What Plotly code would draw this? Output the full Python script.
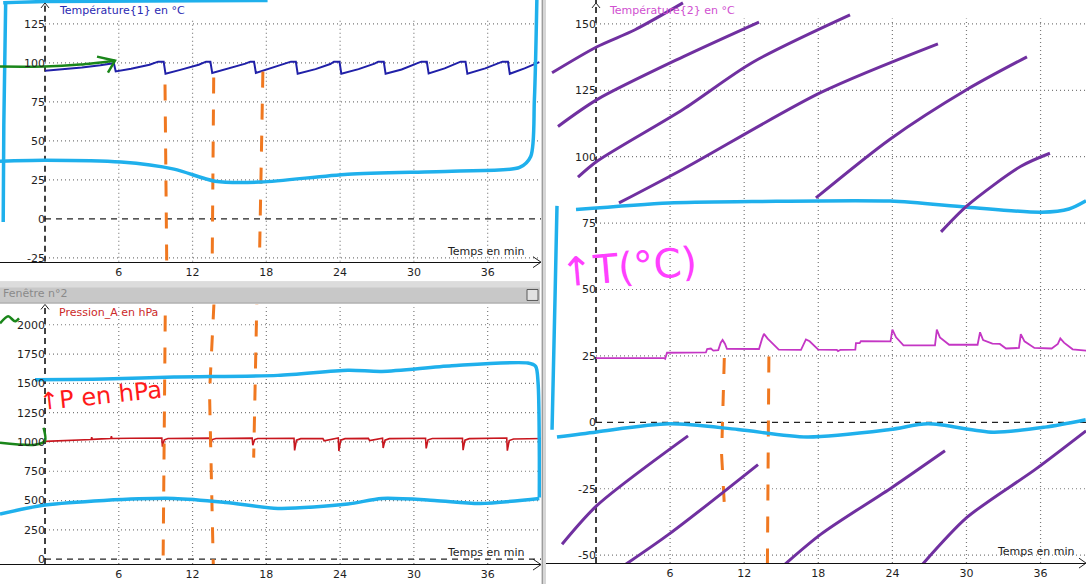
import plotly.graph_objects as go

W, H = 1086, 587

# ---------------- data ----------------
x_ticks = [6, 12, 18, 24, 30, 36]
temp1_ticks = [-25, 0, 25, 50, 75, 100, 125]
pres_ticks = [0, 250, 500, 750, 1000, 1250, 1500, 1750, 2000]
temp2_ticks = [-50, -25, 0, 25, 50, 75, 100, 125, 150]

# Température{1} en °C
temp1_time = [0, 1.5, 3.0, 4.5, 5.6,
              5.75, 7.0, 8.5, 9.2, 9.65,
              9.8, 11.0, 12.5, 13.1, 13.45,
              13.6, 15.0, 16.3, 16.7, 17.0,
              17.15, 18.5, 19.7, 20.0, 20.4,
              20.55, 22.0, 23.2, 23.5, 23.95,
              24.1, 25.5, 26.8, 27.1, 27.55,
              27.7, 29.0, 30.3, 30.6, 31.05,
              31.2, 32.5, 33.5, 33.8, 34.2,
              34.35, 35.8, 36.9, 37.2, 37.65,
              37.8, 39.0, 40.2]
temp1_vals = [95.0, 95.8, 97.0, 98.5, 99.8,
              94.5, 96.2, 98.8, 100.8, 100.8,
              93.0, 95.5, 98.8, 100.8, 100.8,
              93.5, 96.5, 99.5, 100.8, 100.8,
              93.5, 96.8, 99.6, 100.8, 100.8,
              93.0, 96.0, 99.3, 100.8, 100.8,
              93.0, 96.0, 99.5, 100.8, 100.8,
              93.0, 95.8, 99.5, 100.8, 100.8,
              93.2, 96.5, 99.5, 100.8, 100.8,
              93.0, 96.5, 99.5, 100.8, 100.8,
              93.0, 96.5, 100.5]

# Pression_A en hPa
pres_time = [0, 1.5, 3.0, 3.75, 3.8, 3.85, 4.6, 5.35, 5.4, 5.45, 7.0, 8.5, 9.5,
             9.55, 9.7, 10.0,
             11.8, 13.4,
             13.45, 13.6, 13.9,
             15.5, 16.85,
             16.9, 17.05, 17.3,
             18.8, 20.25,
             20.3, 20.45, 20.8,
             22.0, 22.6, 22.7, 23.85,
             23.9, 24.05, 24.4,
             25.5, 26.3, 26.4, 27.45,
             27.5, 27.65, 28.0,
             29.5, 30.95,
             31.0, 31.15, 31.5,
             33.0, 33.95,
             34.0, 34.15, 34.5,
             36.0, 37.55,
             37.6, 37.75, 38.1,
             39.5, 40.5]
pres_vals = [1005, 1010, 1016, 1020, 1040, 1022, 1026, 1030, 1048, 1030, 1032, 1030, 1033,
             960, 1018, 1030,
             1032, 1033,
             972, 1020, 1030,
             1032, 1033,
             972, 1020, 1030,
             1030, 1032,
             928, 1015, 1028,
             1030, 1028, 1010, 1033,
             922, 1015, 1028,
             1030, 1030, 1012, 1032,
             948, 1015, 1028,
             1030, 1032,
             945, 1018, 1030,
             1028, 1032,
             930, 1015, 1028,
             1032, 1034,
             925, 1012, 1025,
             1028, 1030]

# Température{2} en °C
temp2_time = [0, 5.5, 5.6, 5.75, 8.9, 9.0, 9.3, 9.5, 9.9, 10.1,
              10.25, 10.45, 10.6, 13.2, 13.45, 13.6, 13.9, 14.3, 14.8, 16.6,
              16.85, 17.0, 17.3, 17.7, 18.0, 19.5, 19.6, 19.8, 21.0, 21.05,
              21.35, 21.45, 23.85, 24.0, 24.3, 24.9, 27.45, 27.6, 27.85, 28.6,
              30.9, 31.1, 31.35, 32.1, 32.7, 33.2, 34.25, 34.4, 34.7, 35.5,
              36.9, 37.4, 37.6, 37.9, 38.6, 39.7]
temp2_vals = [24.2, 24.2, 23.9, 26.2, 26.3, 27.6, 27.8, 27.0, 27.2, 30.0,
              31.0, 29.5, 27.7, 27.6, 31.5, 33.3, 31.5, 29.5, 27.4, 27.3,
              30.0, 31.2, 30.5, 28.5, 27.4, 27.3, 26.8, 27.3, 27.4, 29.8,
              29.8, 30.6, 30.5, 34.9, 32.0, 29.0, 29.0, 34.9, 32.0, 29.2,
              29.2, 33.9, 31.0, 29.6, 29.5, 27.8, 28.0, 33.2, 30.5, 28.0,
              27.8, 29.5, 31.6, 30.0, 27.5, 27.0]

# ---------------- hand-drawn marks (in each panel's data units) ----------------
# top-left panel (Température{1})
blue_tl_top_x = [-3.4, 0.0, 8.0, 18.1]
blue_tl_top_y = [138.5, 139.3, 139.6, 140.0]
blue_tl_left_x = [-3.2, -3.35, -3.4]
blue_tl_left_y = [138.0, 60.0, -2.0]
blue_tl_loop_x = [-3.66, 0.0, 6.18, 10.49, 13.82, 17.56, 24.63, 33.09, 38.6, 39.5, 39.8, 40.0]
blue_tl_loop_y = [37.0, 37.6, 36.4, 31.9, 24.2, 23.6, 28.7, 30.6, 33.0, 40.0, 76.5, 140.3]
green_tl_x = [-3.66, 0.0, 2.85, 5.69]
green_tl_y = [97.6, 97.6, 98.9, 101.4]
green_tl_head_x = [4.23, 5.69, 5.12]
green_tl_head_y = [104.0, 101.4, 93.75]
orange_tl_1_x = [9.76, 9.92]
orange_tl_1_y = [86.1, -44.6]
orange_tl_2_x = [13.72, 13.58]
orange_tl_2_y = [90.6, -44.6]
orange_tl_3_x = [17.72, 17.4]
orange_tl_3_y = [94.4, -44.6]

# bottom-left panel (Pression_A)
blue_bl_top_x = [-0.81, 4.8, 10.49, 18.94, 24.63, 27.4, 33.09, 39.27, 39.9, 40.1, 40.2, 40.2]
blue_bl_top_y = [1531, 1537, 1554, 1568, 1611, 1602, 1650, 1673, 1645, 1503, 936, 526]
blue_bl_bot_x = [-3.66, 0.0, 4.8, 10.49, 14.72, 18.94, 24.63, 27.4, 31.67, 35.37, 40.2]
blue_bl_bot_y = [385, 461, 501, 518, 484, 433, 470, 518, 501, 475, 518]
green_bl_hook_x = [-3.66, -0.81, 0.0, -0.12]
green_bl_hook_y = [993, 976, 1010, 1121]
green_bl_sq_x = [-3.66, -3.0, -2.44, -2.11]
green_bl_sq_y = [2012, 2072, 2029, 2055]
orange_bl_1_x = [9.8, 9.59]
orange_bl_1_y = [2352, -212]
orange_bl_2_x = [13.74, 13.38, 13.72]
orange_bl_2_y = [2182, 1418, -212]
orange_bl_3_x = [17.25, 16.97]
orange_bl_3_y = [2309, 866]

# right panel (Température{2})
purple_lines = [
    ([-3.56, 0.08, 3.16, 7.04], [131.6, 141.4, 147.8, 157.9]),
    ([-3.08, 0.08, 7.04, 13.2], [111.4, 121.5, 137.6, 150.7]),
    ([-1.46, 0.08, 7.04, 12.63, 20.57], [92.3, 98.3, 117.8, 135.4, 153.4]),
    ([1.86, 7.04, 18.22, 27.69], [82.6, 95.3, 124.2, 142.5]),
    ([17.81, 23.81, 30.04, 34.9], [84.5, 106.6, 125.3, 137.6]),
    ([27.94, 30.04, 34.41, 36.76], [71.7, 81.5, 96.4, 101.3]),
    ([-2.75, 0.08, 7.45], [-45.9, -31.3, -5.1]),
    ([0.89, 5.91, 13.12], [-58.2, -42.1, -15.9]),
    ([14.41, 18.22, 23.97, 28.26], [-57.1, -42.1, -24.5, -10.7]),
    ([26.32, 30.04, 35.55, 39.68], [-54.1, -35.8, -17.8, -3.2]),
]
blue_r_top_x = [-1.62, 5.91, 12.63, 23.81, 30.04, 36.08, 38.3, 39.68]
blue_r_top_y = [80.1, 82.6, 83.1, 83.3, 81.0, 79.1, 80.3, 83.4]
blue_r_left_x = [-3.16, -3.32, -3.56]
blue_r_left_y = [81.5, 46.6, -2.8]
blue_r_bot_x = [-3.16, 0.06, 5.91, 11.5, 17.09, 23.81, 26.87, 32.17, 36.36, 39.65]
blue_r_bot_y = [-5.5, -3.6, -0.56, -2.7, -5.5, -2.7, -0.56, -3.7, -1.8, 1.0]
orange_r_1_x = [10.39, 10.17, 10.39]
orange_r_1_y = [24.2, -12.1, -30.8]
orange_r_2_x = [14.0, 13.96, 13.88]
orange_r_2_y = [24.8, -7.0, -53.3]

# ---------------- styles / layout ----------------
FONT = "DejaVu Sans"
C_T1 = "#2020a8"
C_P = "#c8161e"
C_T2 = "#c436c4"
BLUE = "#1fb0ec"
PURPLE = "#7030a0"
ORANGE = "#f07820"
GREEN = "#1a861a"
GRID = "#7a7a7a"

X_LEFT = [-3.66, 40.5]
X_RIGHT = [-4.05, 39.68]
Y_T1 = [-27.4, 140.3]
Y_P = [-42.5, 2173.4]
Y_T2 = [-53.0, 159.0]

fig = go.Figure()


def line_trace(x, y, xa, ya, color, width, dash=None, spline=False):
    ln = dict(color=color, width=width)
    if dash:
        ln["dash"] = dash
    if spline:
        ln["shape"] = "spline"
        ln["smoothing"] = 0.8
    fig.add_trace(go.Scatter(x=x, y=y, xaxis=xa, yaxis=ya, mode="lines",
                             line=ln, hoverinfo="skip", showlegend=False))


# data series
line_trace(temp1_time, temp1_vals, "x", "y", C_T1, 2)
line_trace(pres_time, pres_vals, "x2", "y2", C_P, 1.6)
line_trace(temp2_time, temp2_vals, "x3", "y3", C_T2, 1.8)

# hand-drawn marks
OD = "16px,16px"
for xs, ys in [(orange_tl_1_x, orange_tl_1_y), (orange_tl_2_x, orange_tl_2_y), (orange_tl_3_x, orange_tl_3_y)]:
    line_trace(xs, ys, "x", "y", ORANGE, 3, dash=OD)
for xs, ys in [(orange_bl_1_x, orange_bl_1_y), (orange_bl_2_x, orange_bl_2_y), (orange_bl_3_x, orange_bl_3_y)]:
    line_trace(xs, ys, "x2", "y2", ORANGE, 3, dash=OD)
for xs, ys in [(orange_r_1_x, orange_r_1_y), (orange_r_2_x, orange_r_2_y)]:
    line_trace(xs, ys, "x3", "y3", ORANGE, 3, dash=OD)

for xs, ys in [(blue_tl_top_x, blue_tl_top_y), (blue_tl_left_x, blue_tl_left_y), (blue_tl_loop_x, blue_tl_loop_y)]:
    line_trace(xs, ys, "x", "y", BLUE, 3.5, spline=True)
for xs, ys in [(blue_bl_top_x, blue_bl_top_y), (blue_bl_bot_x, blue_bl_bot_y)]:
    line_trace(xs, ys, "x2", "y2", BLUE, 3.5, spline=True)
for xs, ys in [(blue_r_top_x, blue_r_top_y), (blue_r_left_x, blue_r_left_y), (blue_r_bot_x, blue_r_bot_y)]:
    line_trace(xs, ys, "x3", "y3", BLUE, 3.5, spline=True)

line_trace(green_tl_x, green_tl_y, "x", "y", GREEN, 2.5, spline=True)
line_trace(green_tl_head_x, green_tl_head_y, "x", "y", GREEN, 2.5)
line_trace(green_bl_hook_x, green_bl_hook_y, "x2", "y2", GREEN, 2.5, spline=True)
line_trace(green_bl_sq_x, green_bl_sq_y, "x2", "y2", GREEN, 2.5, spline=True)

for xs, ys in purple_lines:
    line_trace(xs, ys, "x3", "y3", PURPLE, 3, spline=True)

tickfont = dict(family=FONT, size=11, color="#1e1e1e")


def xaxis_cfg(domain, rng, anchor):
    return dict(domain=domain, range=rng, anchor=anchor, tickvals=x_ticks,
                ticktext=[str(v) for v in x_ticks], showgrid=False, zeroline=False,
                showline=True, linecolor="#111111", linewidth=1, ticks="",
                tickfont=tickfont, fixedrange=True)


def yaxis_cfg(domain, rng, pos, ticks):
    return dict(domain=domain, range=rng, anchor="free", position=pos, tickvals=ticks,
                ticktext=[str(v) for v in ticks], showgrid=False, zeroline=False,
                showline=False, ticks="", tickfont=tickfont, fixedrange=True)


fig.update_layout(
    width=W, height=H, margin=dict(l=0, r=0, t=0, b=0),
    paper_bgcolor="white", plot_bgcolor="white", showlegend=False,
    xaxis=xaxis_cfg([0, 543 / W], X_LEFT, "y"),
    yaxis=yaxis_cfg([1 - 263 / H, 1], Y_T1, 45 / W, temp1_ticks),
    xaxis2=xaxis_cfg([0, 543 / W], X_LEFT, "y2"),
    yaxis2=yaxis_cfg([1 - 567 / H, 1 - 306 / H], Y_P, 45 / W, pres_ticks),
    xaxis3=xaxis_cfg([546 / W, 1], X_RIGHT, "y3"),
    yaxis3=yaxis_cfg([1 - 566 / H, 1], Y_T2, 596 / W, temp2_ticks),
)

shapes = []
panels = [("x", "y", X_LEFT, Y_T1, temp1_ticks, 127),
          ("x2", "y2", X_LEFT, Y_P, pres_ticks, 2150),
          ("x3", "y3", X_RIGHT, Y_T2, temp2_ticks, 152)]
for xa, ya, xr, yr, yt, gtop in panels:
    for v in yt:
        if v != 0:
            shapes.append(dict(type="line", xref=xa, yref=ya, x0=0, x1=xr[1], y0=v, y1=v,
                               line=dict(color=GRID, width=1.2, dash="1px,3px"), layer="below"))
    for v in x_ticks:
        shapes.append(dict(type="line", xref=xa, yref=ya, x0=v, x1=v, y0=yr[0], y1=gtop,
                           line=dict(color=GRID, width=1.2, dash="1px,3px"), layer="below"))
    shapes.append(dict(type="line", xref=xa, yref=ya, x0=0, x1=xr[1], y0=0, y1=0,
                       line=dict(color="#222222", width=1.3, dash="6px,5px"), layer="below"))
    shapes.append(dict(type="line", xref=xa, yref=ya, x0=0, x1=0, y0=yr[0], y1=yr[1],
                       line=dict(color="#111111", width=1.6, dash="6px,4px"), layer="below"))


def P(x, y):
    return x / W, 1 - y / H


def rect(x0, y0, x1, y1, fill, line_color=None, lw=0):
    a, b = P(x0, y1)
    c, d = P(x1, y0)
    return dict(type="rect", xref="paper", yref="paper", x0=a, y0=b, x1=c, y1=d,
                fillcolor=fill, line=dict(color=line_color or fill, width=lw), layer="above")


def path(points, color, lw=1):
    s = ""
    for i, (x, y) in enumerate(points):
        px, py = P(x, y)
        s += ("M" if i == 0 else " L") + f" {px:.5f},{py:.5f}"
    return dict(type="path", xref="paper", yref="paper", path=s,
                line=dict(color=color, width=lw), layer="above")


# window chrome
shapes.append(rect(0, 283, 540, 305, "#c8c8c8"))
shapes.append(rect(0, 283, 540, 289, "#dcdcdc"))
shapes.append(rect(0, 304, 540, 305, "#a6a6a6"))
shapes.append(rect(527, 291, 538, 302, "#e2e2e2", "#5a5a5a", 1))
shapes.append(rect(541, 0, 546, H, "#d6d6d6"))
shapes.append(rect(542, 0, 543, H, "#9c9c9c"))
# axis arrow heads
shapes.append(path([(533, 258), (541, 263.5), (533, 269)], "#222222"))
shapes.append(path([(533, 562), (541, 567.5), (533, 573)], "#222222"))
shapes.append(path([(1079, 561), (1086, 566), (1079, 571)], "#222222"))
shapes.append(path([(41, 8), (45, 3), (49, 8)], "#222222"))
shapes.append(path([(41, 311), (45, 306), (49, 311)], "#222222"))
shapes.append(path([(592, 8), (596, 3), (600, 8)], "#222222"))
fig.update_layout(shapes=shapes)


def text(x, y, s, color, size=11, xanchor="left", angle=0, family=FONT):
    px, py = P(x, y)
    fig.add_annotation(x=px, y=py, xref="paper", yref="paper", text=s, showarrow=False,
                       xanchor=xanchor, yanchor="middle", textangle=angle,
                       font=dict(family=family, size=size, color=color))


text(57, 11, "Température{1} en °C", "#2a2ab2")
text(57, 314, "Pression_A en hPa", "#cc2a2a")
text(607, 11, "Température{2} en °C", "#d050d0")
text(527, 253, "Temps en min", "#1e1e1e", xanchor="right")
text(527, 555, "Temps en min", "#1e1e1e", xanchor="right")
text(1077, 554, "Temps en min", "#1e1e1e", xanchor="right")
text(1, 295, "Fenêtre n°2", "#8a8a8a")
text(100, 398, "↑P en hPa", "#ff1a1a", size=24, xanchor="center", angle=-6)
text(628, 268, "↑T(°C)", "#ff40ff", size=40, xanchor="center", angle=-5)

fig.write_html("out.html",
               config={"displayModeBar": False},
               post_script="document.body.style.margin='0';document.body.style.overflow='hidden';")
